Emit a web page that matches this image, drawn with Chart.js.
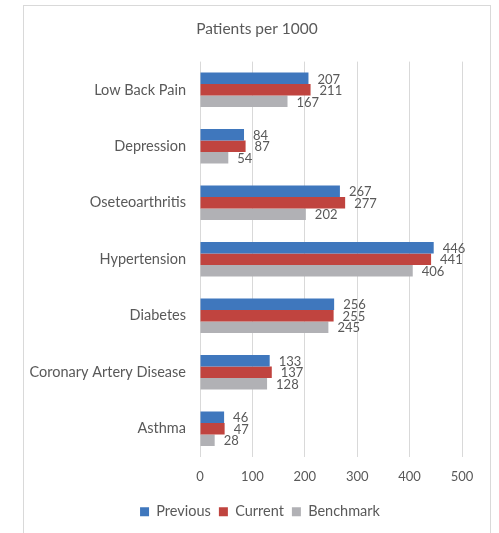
<!DOCTYPE html>
<html>
<head>
<meta charset="utf-8">
<script src="https://cdn.jsdelivr.net/npm/chart.js@4"></script>
<style>
  html, body { margin: 0; padding: 0; background: #fff; }
  #wrap { position: relative; width: 499px; height: 533px; }
  #frame { position: absolute; left: 23px; top: 5px; width: 468px; height: 540px; border: 1px solid #d9d9d9; box-sizing: border-box; }
  canvas { position: absolute; left: 0; top: 0; }
</style>
</head>
<body>
<div id="wrap">
  <div id="frame"></div>
  <canvas id="chart" width="499" height="533"></canvas>
</div>
<script>
const categories = ['Low Back Pain', 'Depression', 'Oseteoarthritis', 'Hypertension', 'Diabetes', 'Coronary Artery Disease', 'Asthma'];
const previous = [207, 84, 267, 446, 256, 133, 46];
const current = [211, 87, 277, 441, 255, 137, 47];
const benchmark = [167, 54, 202, 406, 245, 128, 28];
const xTicks = [0, 100, 200, 300, 400, 500];

const FONT = 'Lato, "Open Sans", sans-serif';
const TEXT = '#595959';

// simple value labels at the end of each bar
const barLabels = {
  id: 'barLabels',
  afterDatasetsDraw(chart) {
    const ctx = chart.ctx;
    ctx.save();
    ctx.font = '13px ' + FONT;
    ctx.fillStyle = TEXT;
    ctx.textAlign = 'left';
    ctx.textBaseline = 'middle';
    chart.data.datasets.forEach((ds, i) => {
      chart.getDatasetMeta(i).data.forEach((bar, j) => {
        ctx.fillText(ds.data[j], bar.x + 9, bar.y + 1);
      });
    });
    ctx.restore();
  }
};

// title and legend in the original sit centred on the whole frame, not the plot
const centreOnFrame = {
  id: 'centreOnFrame',
  afterLayout(chart) {
    chart.legend.left += 17;
    chart.legend.right += 17;
    chart.titleBlock.left += 14;
    chart.titleBlock.right += 14;
  }
};

new Chart(document.getElementById('chart'), {
  type: 'bar',
  data: {
    labels: categories,
    datasets: [
      { label: 'Previous', data: previous, backgroundColor: '#3f77bd' },
      { label: 'Current', data: current, backgroundColor: '#c0443f' },
      { label: 'Benchmark', data: benchmark, backgroundColor: '#b1b1b5' }
    ]
  },
  options: {
    indexAxis: 'y',
    responsive: false,
    animation: false,
    devicePixelRatio: 1,
    categoryPercentage: 0.61,
    barPercentage: 1,
    layout: { padding: { left: 24, right: 37, top: 20, bottom: 4 } },
    plugins: {
      title: {
        display: true,
        text: 'Patients per 1000',
        color: TEXT,
        font: { family: FONT, size: 15.5, weight: 'normal' },
        padding: { top: 0, bottom: 23 }
      },
      legend: {
        position: 'bottom',
        labels: {
          color: TEXT,
          font: { family: FONT, size: 14.5 },
          boxWidth: 9,
          boxHeight: 9,
          padding: 8
        }
      },
      tooltip: { enabled: false }
    },
    scales: {
      x: {
        min: 0,
        max: 500,
        afterBuildTicks: axis => { axis.ticks = xTicks.map(v => ({ value: v })); },
        grid: { color: '#d9d9d9', drawTicks: false },
        border: { display: false },
        ticks: { color: TEXT, font: { family: FONT, size: 13 }, padding: 12 }
      },
      y: {
        grid: { display: false, drawTicks: false },
        border: { display: false },
        ticks: { color: TEXT, font: { family: FONT, size: 14.5 }, padding: 14 },
        afterFit: axis => { axis.width = 176; }
      }
    }
  },
  plugins: [barLabels, centreOnFrame]
});
</script>
</body>
</html>
